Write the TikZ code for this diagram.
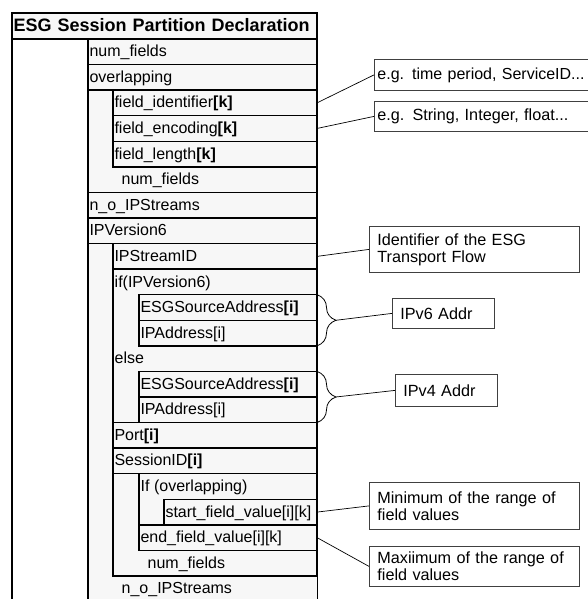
\documentclass[tikz,border=0pt]{standalone}
\usepackage{fontspec}
\setmainfont{Liberation Sans}
\usetikzlibrary{positioning,decorations.pathreplacing}
\definecolor{rowfill}{HTML}{F7F7F7}
\definecolor{noteline}{HTML}{404040}

\begin{document}
\begin{tikzpicture}
[
x=1pt, y=-1pt,
every node/.style={font=\fontsize{16}{17}\selectfont},
fieldrow/.style={rectangle, draw, line width=1.4pt, fill=rowfill, anchor=north west, outer sep=0, inner xsep=1.5pt, inner ysep=0pt, minimum height=25.57pt, text height=12.5pt, text depth=2.5pt, align=left},
rowzero/.style={fieldrow, text width=302pt, minimum height=26pt, text height=14pt, text depth=3pt, font=\bfseries\fontsize{18}{20}\selectfont},
rowone/.style={fieldrow, text width=226pt},
rowtwo/.style={fieldrow, text width=201pt},
rowthree/.style={fieldrow, text width=175pt},
rowfour/.style={fieldrow, text width=150pt},
looptext/.style={anchor=north west, inner xsep=1.5pt, inner ysep=0pt, minimum height=25.57pt, text height=12.5pt, text depth=2.5pt},
loopbox/.style={draw, line width=1.4pt, fill=rowfill},
notebox/.style={rectangle, draw=noteline, line width=0.8pt, fill=white, anchor=north west, align=left, inner xsep=3pt, inner ysep=2pt, font=\fontsize{16.2}{17}\selectfont},
link/.style={line width=0.7pt},
addrbrace/.style={decorate, decoration={brace, amplitude=19pt}, line width=0.8pt}
]
\useasboundingbox (0,0) rectangle (588,599);

% frame and loop boxes
\draw[line width=1.4pt] (12,599) -- (12,13) -- (317,13) -- (317,599);
\fill[rowfill] (88,218) rectangle (317,599);
\draw[line width=1.4pt] (88,599) -- (88,218) -- (317,218);
\foreach \lx/\ly/\ry in {88/64.6/192.4, 113/90.1/166.9, 113/243.6/576, 139/473.7/550.4}
  \draw[loopbox] (\lx,\ly) rectangle (317,\ry);

% fields
\node[rowzero]  (decl)  at (12,13)          {ESG Session Partition Declaration};
\node[rowone]   (nf)    at (88,39)          {num\_fields};
\node[rowone]   (ovl)   [below=0pt of nf]   {overlapping};
\node[rowtwo]   (fid)   at (113,90.1)       {field\_identifier\textbf{[k]}};
\node[rowtwo]   (fenc)  [below=0pt of fid]  {field\_encoding\textbf{[k]}};
\node[rowtwo]   (flen)  [below=0pt of fenc] {field\_length\textbf{[k]}};
\node[looptext] (nfend) at (120,166.9)      {num\_fields};
\node[rowone]   (nio)   at (88,192.4)       {n\_o\_IPStreams};
\node[rowone]   (ipv)   [below=0pt of nio]  {IPVersion6};
\node[rowtwo]   (sid)   at (113,243.6)      {IPStreamID};
\node[looptext] (ifv6)  at (113,269.1)      {if(IPVersion6)};
\node[rowthree] (src6)  at (139,294.7)      {ESGSourceAddress\textbf{[i]}};
\node[rowthree] (ip6)   [below=0pt of src6] {IPAddress[i]};
\node[looptext] (elsev4) at (113,345.8)     {else};
\node[rowthree] (src4)  at (139,371.4)      {ESGSourceAddress\textbf{[i]}};
\node[rowthree] (ip4)   [below=0pt of src4] {IPAddress[i]};
\node[rowtwo]   (port)  at (113,422.6)      {Port\textbf{[i]}};
\node[rowtwo]   (sess)  [below=0pt of port] {SessionID\textbf{[i]}};
\node[looptext] (ifovl) at (139,473.7)      {If (overlapping)};
\node[rowfour]  (sfv)   at (164,499.3)      {start\_field\_value[i][k]};
\node[rowthree] (efv)   at (139,524.8)      {end\_field\_value[i][k]};
\node[looptext] (nfend2) at (146,550.4)     {num\_fields};
\node[looptext] (nioend) at (120,576)       {n\_o\_IPStreams};

% notes
\node[notebox, text width=214pt, minimum height=31pt, font=\fontsize{16}{17}\selectfont] (tp) at (374,59) {e.g. time period, ServiceID...};
\node[notebox, text width=214pt, minimum height=30pt] (ty) at (374,101) {e.g. String, Integer, float...};
\node[notebox, inner xsep=8pt, text width=194pt, minimum height=46pt] (tfl) at (369,226) {Identifier of the ESG\\Transport Flow};
\node[notebox, inner xsep=8pt, text width=86pt, minimum height=30pt] (v6) at (392,298) {IPv6 Addr};
\node[notebox, inner xsep=8pt, text width=86pt, minimum height=32pt] (v4) at (395,374) {IPv4 Addr};
\node[notebox, inner xsep=8pt, text width=194pt, minimum height=47pt] (fmin) at (369,482) {Minimum of the range of\\field values};
\node[notebox, inner xsep=8pt, text width=194pt, minimum height=40pt] (fmax) at (369,546) {Maxiimum of the range of\\field values};

\draw[link] (fid.east) -- (tp.west);
\draw[link] (fenc.east) -- (ty.west);
\draw[link] (sid.east) -- (tfl.west);
\draw[addrbrace] (src6.north east) -- coordinate[midway, xshift=19pt] (tip6) (ip6.south east);
\draw[link] (tip6) -- (v6.west);
\draw[addrbrace] (src4.north east) -- coordinate[midway, xshift=19pt] (tip4) (ip4.south east);
\draw[link] (tip4) -- (v4.west);
\draw[link] (sfv.east) -- (fmin.west);
\draw[link] (efv.east) -- (fmax.west);
\end{tikzpicture}
\end{document}
